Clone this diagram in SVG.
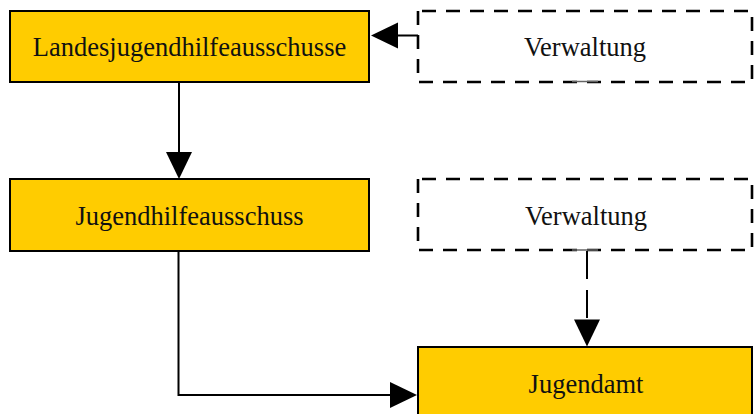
<svg xmlns="http://www.w3.org/2000/svg" width="754" height="414" viewBox="0 0 754 414">
<style>
.box{fill:#FFCC00;stroke:#000;stroke-width:2}
.dbox{fill:#fff;stroke:#000;stroke-width:2.6;stroke-dasharray:14 10}
.lbl{font-family:"Liberation Serif","Times New Roman",serif;font-size:26.5px;fill:#111;text-anchor:middle}
.conn{fill:none;stroke:#000;stroke-width:2}
.dash{stroke-dasharray:28 11}
.stub{stroke:#666;stroke-width:1.5}
</style>
<defs>
<marker id="ah" markerUnits="userSpaceOnUse" markerWidth="28" markerHeight="28" refX="0" refY="13" orient="auto" overflow="visible">
<path d="M0,0 L27,13 L0,26 Z" fill="#000"/>
</marker>
</defs>
<rect width="754" height="414" fill="#fff"/>
<g id="n1">
<rect class="box" x="10" y="11" width="359" height="71"/>
<text class="lbl" x="189.5" y="56">Landesjugendhilfeausschusse</text>
</g>
<g id="n2">
<rect class="dbox" x="418" y="11" width="334" height="71" stroke-dashoffset="-4"/>
<line class="stub" x1="572" y1="81.5" x2="598" y2="81.5"/>
<text class="lbl" x="585" y="56">Verwaltung</text>
</g>
<g id="n3">
<rect class="box" x="10" y="179" width="359" height="72"/>
<text class="lbl" x="189.5" y="225">Jugendhilfeausschuss</text>
</g>
<g id="n4">
<rect class="dbox" x="418" y="179" width="334" height="71" stroke-dashoffset="-4"/>
<line class="stub" x1="572" y1="250" x2="598" y2="250"/>
<text class="lbl" x="586" y="225">Verwaltung</text>
</g>
<g id="n5">
<rect class="box" x="418" y="347" width="334" height="72"/>
<text class="lbl" x="586" y="393">Jugendamt</text>
</g>
<g id="connectors">
<path class="conn" d="M418,35.5 H398" marker-end="url(#ah)"/>
<path class="conn" d="M179,82 V152" marker-end="url(#ah)"/>
<path class="conn" d="M178.5,251 V395 H390" marker-end="url(#ah)"/>
<path class="conn dash" d="M587,251 V319.5" marker-end="url(#ah)"/>
</g>
</svg>
